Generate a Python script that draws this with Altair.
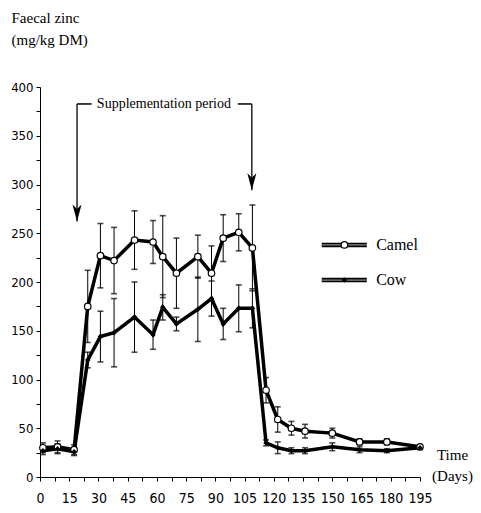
import altair as alt
import pandas as pd

# ---- data ----
days = [1.5, 9, 17.5, 24.5, 31, 38, 48.5, 58, 63, 70, 81, 88, 94, 102, 109,
        116, 122, 129, 136, 150, 164, 178, 195]
camel = [30, 31, 28, 175, 227, 222, 243, 241, 226, 209, 226, 209, 245, 251, 235,
         89, 59, 50, 47, 45, 36, 36, 31]
camel_err = [5, 6, 5, 37, 33, 34, 30, 22, 42, 36, 22, 28, 24, 19, 44,
             13, 13, 7, 7, 5, 3, 3, 2]
cow = [27, 29, 26, 120, 144, 148, 164, 146, 174, 157, 172, 183, 157, 173, 173,
       35, 30, 27, 27, 31, 28, 27, 30]
cow_err = [4, 5, 4, 8, 26, 35, 36, 15, 13, 7, 33, 18, 16, 24, 20,
           3, 6, 3, 3, 4, 3, 2, 2]

y_ticks = list(range(0, 401, 25))
x_ticks = [i * 7.5 for i in range(27)]

rows = []
for s, vals, errs in (("Camel", camel, camel_err), ("Cow", cow, cow_err)):
    for d, v, e in zip(days, vals, errs):
        rows.append({"series": s, "day": d, "value": v, "lo": v - e, "hi": v + e})
df = pd.DataFrame(rows)

# annotation (supplementation period) in data units
arrow_df = pd.DataFrame({"day": [19, 108.7], "top": [382.6, 382.6], "tip": [262, 294]})
brk_df = pd.DataFrame({"day": [19, 101.5], "day2": [26.5, 108.7], "value": [382.6, 382.6]})
lab_df = pd.DataFrame({"day": [63.6], "value": [382.6], "text": ["Supplementation period"]})

# legend drawn in data units
leg_df = pd.DataFrame({"series": ["Camel", "Cow"], "day": [144.6, 144.6], "day2": [167.7, 167.7],
                       "mid": [156.2, 156.2], "value": [238, 202], "tx": [172.5, 172.5]})

SERIF = "Liberation Serif, Times New Roman, serif"
SANS = "Liberation Sans Narrow, DejaVu Sans Condensed, Arial Narrow, sans-serif"

xs = alt.Scale(domain=[0, 195], nice=False, zero=False)
ys = alt.Scale(domain=[0, 400], nice=False)

x_axis = alt.Axis(values=x_ticks, labelExpr="datum.value % 15 == 0 ? datum.label : ''",
                  grid=False, domainColor="black", tickColor="black", tickSize=4,
                  labelFont=SANS, labelFontSize=14, labelColor="black", labelPadding=10,
                  labelFlush=False, labelAngle=0,
                  title=["Time", "(Days)"], titleFont=SERIF, titleFontSize=15,
                  titleFontWeight="normal", titleColor="black", titleAngle=0,
                  titleX=412, titleY=-30, titleAlign="center", titleBaseline="top",
                  titleLineHeight=21)
y_axis = alt.Axis(values=y_ticks, labelExpr="datum.value % 50 == 0 ? datum.label : ''",
                  grid=False, domainColor="black", tickColor="black", tickSize=4,
                  labelFont=SANS, labelFontSize=13, labelColor="black", labelPadding=3,
                  labelFlush=False,
                  title=["Faecal zinc", "(mg/kg DM)"], titleFont=SERIF, titleFontSize=15,
                  titleFontWeight="normal", titleColor="black", titleAngle=0,
                  titleX=-29, titleY=-77, titleAlign="left", titleBaseline="top",
                  titleLineHeight=22)


def X(field):
    return alt.X(field, type="quantitative", scale=xs, axis=x_axis)


def Y(field):
    return alt.Y(field, type="quantitative", scale=ys, axis=y_axis)


base = alt.Chart(df)

err_rule = base.mark_rule(color="black", strokeWidth=1).encode(
    x=X("day"), y=Y("lo"), y2="hi")
cap_lo = base.mark_tick(color="black", orient="horizontal", size=6, thickness=1.6).encode(
    x=X("day"), y=Y("lo"))
cap_hi = base.mark_tick(color="black", orient="horizontal", size=6, thickness=1.6).encode(
    x=X("day"), y=Y("hi"))

lines = base.mark_line(color="black", strokeWidth=3.5).encode(
    x=X("day"), y=Y("value"), detail="series:N")

camel_pts = base.transform_filter("datum.series == 'Camel'").mark_point(
    shape="circle", filled=True, fill="white", stroke="black", strokeWidth=1.2,
    size=42, opacity=1).encode(x=X("day"), y=Y("value"))
cow_pts = base.transform_filter("datum.series == 'Cow'").mark_point(
    shape="diamond", filled=True, color="black", size=30, opacity=1).encode(
    x=X("day"), y=Y("value"))

# annotation layers
arr_rule = alt.Chart(arrow_df).mark_rule(color="black", strokeWidth=1.3).encode(
    x=X("day"), y=Y("top"), y2="tip")
arr_head = alt.Chart(arrow_df).mark_point(
    shape="M0,0 L-1,-3.8 L0,-2.8 L1,-3.8 Z", filled=True, color="black", size=81,
    opacity=1).encode(x=X("day"), y=Y("tip"))
brk = alt.Chart(brk_df).mark_rule(color="black", strokeWidth=1.5).encode(
    x=X("day"), x2="day2", y=Y("value"))
lab = alt.Chart(lab_df).mark_text(font=SERIF, fontSize=14, color="black",
                                  align="center", baseline="middle").encode(
    x=X("day"), y=Y("value"), text="text:N")

# legend
leg_line = alt.Chart(leg_df).mark_rule(color="black", strokeWidth=4.5).encode(
    x=X("day"), x2="day2", y=Y("value"))
leg_inner = alt.Chart(leg_df).mark_rule(color="#8a8a8a", strokeWidth=1.3).encode(
    x=X("day"), x2="day2", y=Y("value"))
leg_camel = alt.Chart(leg_df).transform_filter("datum.series == 'Camel'").mark_point(
    shape="circle", filled=True, fill="white", stroke="black", strokeWidth=1.2,
    size=42, opacity=1).encode(x=X("mid"), y=Y("value"))
leg_cow = alt.Chart(leg_df).transform_filter("datum.series == 'Cow'").mark_point(
    shape="diamond", filled=True, color="black", size=30, opacity=1).encode(
    x=X("mid"), y=Y("value"))
leg_text = alt.Chart(leg_df).mark_text(font=SERIF, fontSize=16, color="black",
                                       align="left", baseline="middle").encode(
    x=X("tx"), y=Y("value"), text="series:N")

chart = alt.layer(
    err_rule, cap_lo, cap_hi, lines, camel_pts, cow_pts,
    arr_rule, arr_head, brk, lab,
    leg_line, leg_inner, leg_camel, leg_cow, leg_text,
).properties(
    width=380, height=390,
    autosize=alt.AutoSizeParams(type="none"),
    padding={"left": 32, "top": 79, "right": 53, "bottom": 28},
    background="white",
).configure_view(stroke=None)

chart.save("out.html", embed_options={"renderer": "svg", "actions": False})
